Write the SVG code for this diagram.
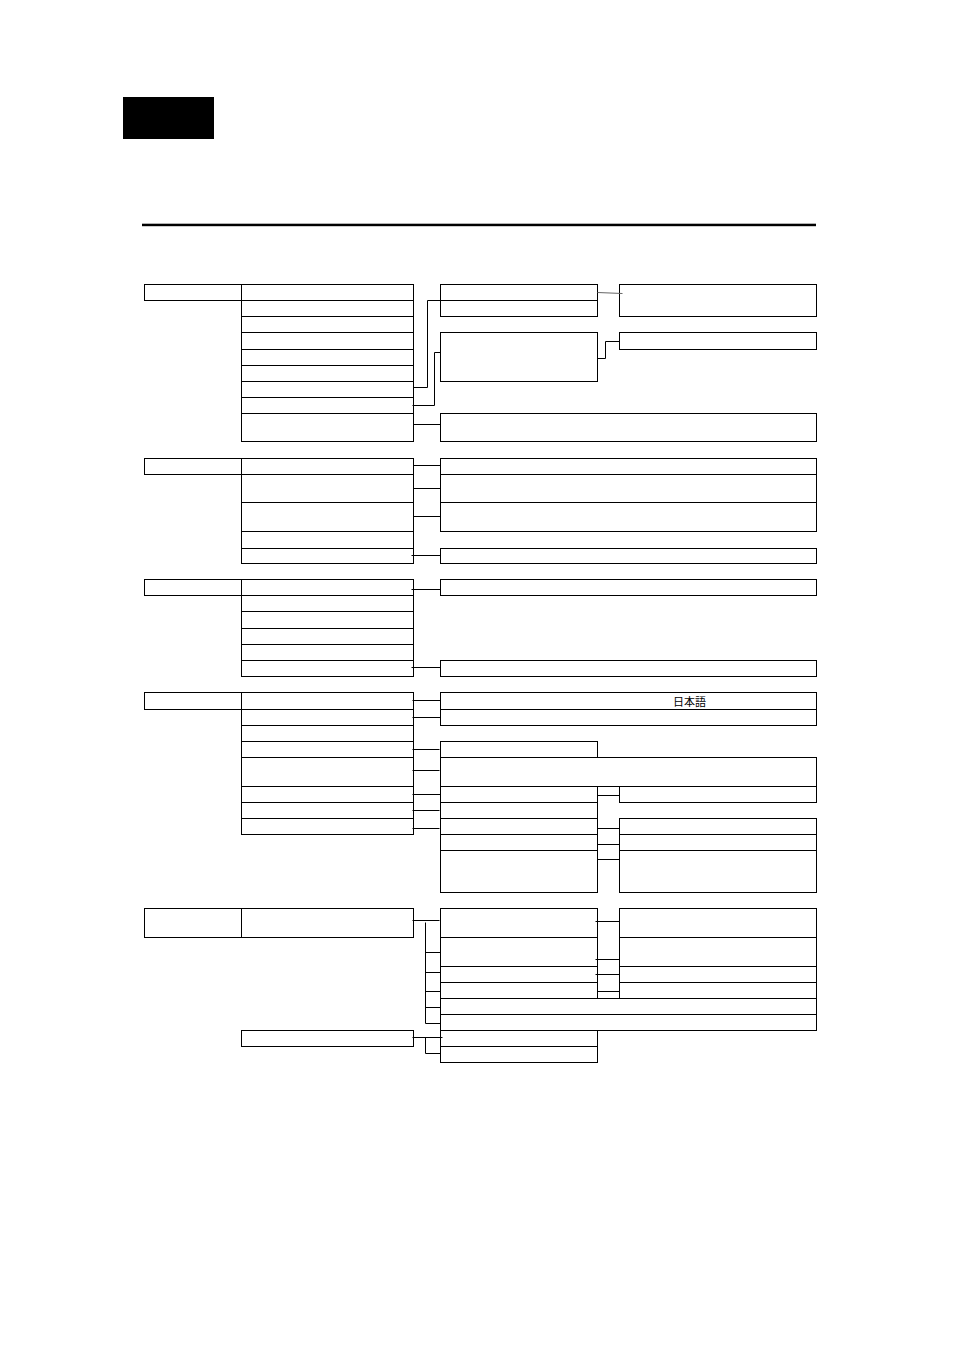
<svg xmlns="http://www.w3.org/2000/svg" width="954" height="1351" viewBox="0 0 954 1351">
<style>
.b{fill:#fff;stroke:#000;stroke-width:1}
.c{fill:none;stroke:#000;stroke-width:1}
.g{fill:none;stroke:#666;stroke-width:1}
.t{font-family:"Noto Sans CJK JP","Noto Sans",sans-serif;font-size:11px;fill:#000}
</style>
<rect width="954" height="1351" fill="#fff"/>
<rect id="tab" x="123" y="97" width="91" height="42" fill="#000"/>
<rect id="rule" x="142" y="223.7" width="674" height="2.5" fill="#000"/>
<g transform="translate(0.5,0.5)">
<!-- Section 1 -->
<g id="s1-root"><rect class="b" x="144" y="284" width="97" height="16"/></g>
<g id="s1-c2-1"><rect class="b" x="241" y="284" width="172" height="16"/></g>
<g id="s1-c2-2"><rect class="b" x="241" y="300" width="172" height="16"/></g>
<g id="s1-c2-3"><rect class="b" x="241" y="316" width="172" height="16"/></g>
<g id="s1-c2-4"><rect class="b" x="241" y="332" width="172" height="17"/></g>
<g id="s1-c2-5"><rect class="b" x="241" y="349" width="172" height="16"/></g>
<g id="s1-c2-6"><rect class="b" x="241" y="365" width="172" height="16"/></g>
<g id="s1-c2-7"><rect class="b" x="241" y="381" width="172" height="16"/></g>
<g id="s1-c2-8"><rect class="b" x="241" y="397" width="172" height="16"/></g>
<g id="s1-c2-9"><rect class="b" x="241" y="413" width="172" height="28"/></g>
<g id="s1-a1"><rect class="b" x="440" y="284" width="157" height="16"/></g>
<g id="s1-a2"><rect class="b" x="440" y="300" width="157" height="16"/></g>
<g id="s1-b"><rect class="b" x="619" y="284" width="197" height="32"/></g>
<g id="s1-c"><rect class="b" x="440" y="332" width="157" height="49"/></g>
<g id="s1-d"><rect class="b" x="619" y="332" width="197" height="17"/></g>
<g id="s1-e"><rect class="b" x="440" y="413" width="376" height="28"/></g>
<!-- Section 2 -->
<g id="s2-root"><rect class="b" x="144" y="458" width="97" height="16"/></g>
<g id="s2-c2-1"><rect class="b" x="241" y="458" width="172" height="16"/></g>
<g id="s2-c2-2"><rect class="b" x="241" y="474" width="172" height="28"/></g>
<g id="s2-c2-3"><rect class="b" x="241" y="502" width="172" height="29"/></g>
<g id="s2-c2-4"><rect class="b" x="241" y="531" width="172" height="17"/></g>
<g id="s2-c2-5"><rect class="b" x="241" y="548" width="172" height="15"/></g>
<g id="s2-r1"><rect class="b" x="440" y="458" width="376" height="16"/></g>
<g id="s2-r2"><rect class="b" x="440" y="474" width="376" height="28"/></g>
<g id="s2-r3"><rect class="b" x="440" y="502" width="376" height="29"/></g>
<g id="s2-r4"><rect class="b" x="440" y="548" width="376" height="15"/></g>
<!-- Section 3 -->
<g id="s3-root"><rect class="b" x="144" y="579" width="97" height="16"/></g>
<g id="s3-c2-1"><rect class="b" x="241" y="579" width="172" height="16"/></g>
<g id="s3-c2-2"><rect class="b" x="241" y="595" width="172" height="16"/></g>
<g id="s3-c2-3"><rect class="b" x="241" y="611" width="172" height="17"/></g>
<g id="s3-c2-4"><rect class="b" x="241" y="628" width="172" height="16"/></g>
<g id="s3-c2-5"><rect class="b" x="241" y="644" width="172" height="16"/></g>
<g id="s3-c2-6"><rect class="b" x="241" y="660" width="172" height="16"/></g>
<g id="s3-r1"><rect class="b" x="440" y="579" width="376" height="16"/></g>
<g id="s3-r2"><rect class="b" x="440" y="660" width="376" height="16"/></g>
<!-- Section 4 -->
<g id="s4-root"><rect class="b" x="144" y="692" width="97" height="17"/></g>
<g id="s4-c2-1"><rect class="b" x="241" y="692" width="172" height="17"/></g>
<g id="s4-c2-2"><rect class="b" x="241" y="709" width="172" height="16"/></g>
<g id="s4-c2-3"><rect class="b" x="241" y="725" width="172" height="16"/></g>
<g id="s4-c2-4"><rect class="b" x="241" y="741" width="172" height="16"/></g>
<g id="s4-c2-5"><rect class="b" x="241" y="757" width="172" height="29"/></g>
<g id="s4-c2-6"><rect class="b" x="241" y="786" width="172" height="16"/></g>
<g id="s4-c2-7"><rect class="b" x="241" y="802" width="172" height="16"/></g>
<g id="s4-c2-8"><rect class="b" x="241" y="818" width="172" height="16"/></g>
<g id="s4-lang"><rect class="b" x="440" y="692" width="376" height="17"/><text class="t" x="689" y="705" text-anchor="middle">日本語</text></g>
<g id="s4-r2"><rect class="b" x="440" y="709" width="376" height="16"/></g>
<g id="s4-r3"><rect class="b" x="440" y="741" width="157" height="16"/></g>
<g id="s4-r4"><rect class="b" x="440" y="757" width="376" height="29"/></g>
<g id="s4-c3-1"><rect class="b" x="440" y="786" width="157" height="16"/></g>
<g id="s4-c3-2"><rect class="b" x="440" y="802" width="157" height="16"/></g>
<g id="s4-c3-3"><rect class="b" x="440" y="818" width="157" height="16"/></g>
<g id="s4-c3-4"><rect class="b" x="440" y="834" width="157" height="16"/></g>
<g id="s4-c3-5"><rect class="b" x="440" y="850" width="157" height="42"/></g>
<g id="s4-c4-1"><rect class="b" x="619" y="786" width="197" height="16"/></g>
<g id="s4-c4-2"><rect class="b" x="619" y="818" width="197" height="16"/></g>
<g id="s4-c4-3"><rect class="b" x="619" y="834" width="197" height="16"/></g>
<g id="s4-c4-4"><rect class="b" x="619" y="850" width="197" height="42"/></g>
<!-- Section 5 -->
<g id="s5-root"><rect class="b" x="144" y="908" width="97" height="29"/></g>
<g id="s5-c2-1"><rect class="b" x="241" y="908" width="172" height="29"/></g>
<g id="s5-c2-2"><rect class="b" x="241" y="1030" width="172" height="16"/></g>
<g id="s5-c3-1"><rect class="b" x="440" y="908" width="157" height="29"/></g>
<g id="s5-c3-2"><rect class="b" x="440" y="937" width="157" height="29"/></g>
<g id="s5-c3-3"><rect class="b" x="440" y="966" width="157" height="16"/></g>
<g id="s5-c3-4"><rect class="b" x="440" y="982" width="157" height="16"/></g>
<g id="s5-w1"><rect class="b" x="440" y="998" width="376" height="16"/></g>
<g id="s5-w2"><rect class="b" x="440" y="1014" width="376" height="16"/></g>
<g id="s5-l1"><rect class="b" x="440" y="1030" width="157" height="16"/></g>
<g id="s5-l2"><rect class="b" x="440" y="1046" width="157" height="16"/></g>
<g id="s5-c4-1"><rect class="b" x="619" y="908" width="197" height="29"/></g>
<g id="s5-c4-2"><rect class="b" x="619" y="937" width="197" height="29"/></g>
<g id="s5-c4-3"><rect class="b" x="619" y="966" width="197" height="16"/></g>
<g id="s5-c4-4"><rect class="b" x="619" y="982" width="197" height="16"/></g>
<!-- Connectors -->
<g id="connectors">
<path class="c" d="M413,387 H427 V300 H440"/>
<path class="c" d="M412,405 H434 V352 H440"/>
<path class="c" d="M413,424 H440"/>
<path class="g" d="M597,292 L622,293"/>
<path class="c" d="M597,358 H605 V341 H619"/>
<path class="c" d="M413,465 H440 M413,488 H440 M413,516 H440 M411,555 H440"/>
<path class="c" d="M411,589 H440 M411,667 H440"/>
<path class="c" d="M412,700 H440 M412,717 H440 M412,749 H439 M412,770 H439 M412,794 H440 M412,810 H439 M412,828 H439"/>
<path class="c" d="M597,795 H619 M597,828 H619 M597,844 H619 M597,859 H619"/>
<path class="c" d="M412,920 H439 M425,922 V1023 H440 M425,952 H440 M425,972 H440 M425,991 H440 M425,1007 H440"/>
<path class="c" d="M412,1037 H442 M425,1037 V1053 H440"/>
<path class="c" d="M595,921 H619 M595,959 H619 M595,974 H619 M597,991 H619"/>
</g>
</g>
</svg>
